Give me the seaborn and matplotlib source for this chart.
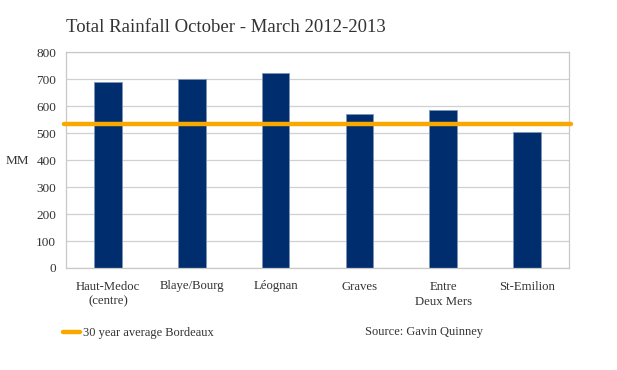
import matplotlib
matplotlib.use("Agg")
import matplotlib.pyplot as plt
import seaborn as sns
import pandas as pd
from matplotlib.lines import Line2D

regions = ["Haut-Medoc\n(centre)", "Blaye/Bourg", "Léognan", "Graves", "Entre\nDeux Mers", "St-Emilion"]
rainfall = [690, 700, 722, 570, 587, 504]
average_30yr = 535
yticks = [0, 100, 200, 300, 400, 500, 600, 700, 800]

sns.set_theme(style="white")
plt.rcParams['font.family'] = ['Liberation Serif', 'DejaVu Serif']

df = pd.DataFrame({"region": regions, "mm": rainfall})

fig = plt.figure(figsize=(6.17, 3.70), dpi=100)
ax = fig.add_axes([66/617, 1-268/370, (569-66)/617, (268-52.3)/370])

sns.barplot(data=df, x="region", y="mm", color="#002D6E", width=0.33,
            edgecolor="#7f95b8", linewidth=0.6, saturation=1, ax=ax)

ax.axhline(average_30yr, color="#F9A800", lw=3.2, zorder=5, clip_on=False,
           xmin=-0.003, xmax=1.003)

ax.set_ylim(0, 800)
ax.set_xlim(-0.5, len(regions) - 0.5)
ax.set_yticks(yticks)
ax.set_yticklabels([str(v) for v in yticks], fontsize=9.5, color="#333333")
ax.yaxis.grid(True, color="#d0d0d0", lw=0.9)
ax.set_axisbelow(True)
for s in ax.spines.values():
    s.set_color("#c8c8c8")
    s.set_linewidth(0.9)
ax.tick_params(axis="y", length=0, pad=7)
ax.tick_params(axis="x", length=0, pad=9, labelsize=9, labelcolor="#333333")
ax.set_xticks(range(len(regions)))
ax.set_xticklabels(regions, fontsize=9.2, color="#333333", linespacing=1.35)
ax.set_xticks([i + 0.5 for i in range(len(regions) - 1)], minor=True)
ax.tick_params(axis="x", which="minor", direction="in", length=6, color="#c8c8c8", width=0.9)
ax.set_xlabel("")
ax.set_ylabel("")

fig.text(17/617, 1-161/370, "MM", fontsize=9.5, color="#333333", ha="center", va="center")

fig.text(66/617, 1-28/370, "Total Rainfall October - March 2012-2013", fontsize=13.5,
         color="#333333", va="center", ha="left")

handle = Line2D([0], [0], color="#F9A800", lw=3.2)
fig.legend([handle], ["30 year average Bordeaux"], loc="center left",
           bbox_to_anchor=(52/617, 1-333/370), frameon=False, fontsize=9,
           handlelength=1.3, handletextpad=0.3, labelcolor="#333333")
fig.text(483/617, 1-332/370, "Source: Gavin Quinney", fontsize=9, color="#333333",
         ha="right", va="center")

fig.savefig("out.png", dpi=100, facecolor="white")
